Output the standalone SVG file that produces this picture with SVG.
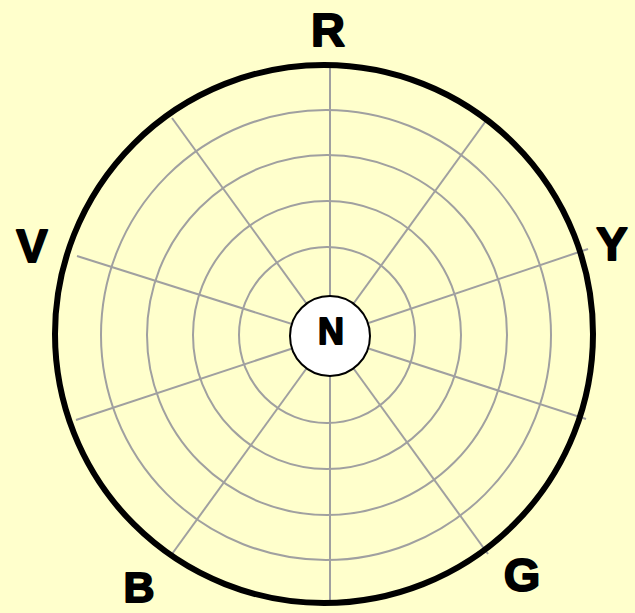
<svg xmlns="http://www.w3.org/2000/svg" width="635" height="613" viewBox="0 0 635 613">
<style>
.ring{fill:none;stroke:#a0a0a0;stroke-width:2}
.spoke{stroke:#a0a0a0;stroke-width:2}
.lbl{font-family:"Liberation Sans",Arial,sans-serif;font-weight:bold;fill:#000;stroke:#000;stroke-width:1.8;stroke-linejoin:round;text-anchor:middle}
</style>
<rect width="635" height="613" fill="#ffffcc"/>
<g id="grid">
<circle class="ring" cx="327" cy="335" r="88"/>
<circle class="ring" cx="327" cy="335" r="134"/>
<circle class="ring" cx="327" cy="335" r="180"/>
<circle class="ring" cx="326" cy="335" r="225"/>
</g>
<g id="connectors">
<line class="spoke" x1="330" y1="336" x2="330" y2="67"/>
<line class="spoke" x1="330" y1="336" x2="488" y2="118"/>
<line class="spoke" x1="330" y1="336" x2="588" y2="249"/>
<line class="spoke" x1="330" y1="336" x2="586" y2="419"/>
<line class="spoke" x1="330" y1="336" x2="488" y2="554"/>
<line class="spoke" x1="330" y1="336" x2="330" y2="604"/>
<line class="spoke" x1="330" y1="336" x2="172" y2="554"/>
<line class="spoke" x1="330" y1="336" x2="76" y2="420"/>
<line class="spoke" x1="330" y1="336" x2="77" y2="256"/>
<line class="spoke" x1="330" y1="336" x2="172" y2="118"/>
</g>
<g id="outer">
<circle cx="324" cy="334" r="269" fill="none" stroke="#000" stroke-width="6"/>
</g>
<g id="N">
<circle cx="330" cy="336" r="40" fill="#fff" stroke="#000" stroke-width="2"/>
<text class="lbl" x="331" y="344" font-size="36">N</text>
</g>
<g id="R"><text class="lbl" x="328" y="46" font-size="47">R</text></g>
<g id="V"><text class="lbl" x="32" y="262" font-size="47">V</text></g>
<g id="Y"><text class="lbl" x="612" y="260" font-size="47">Y</text></g>
<g id="B"><text class="lbl" x="139" y="602" font-size="43">B</text></g>
<g id="G"><text class="lbl" x="522" y="591" font-size="47">G</text></g>
</svg>
